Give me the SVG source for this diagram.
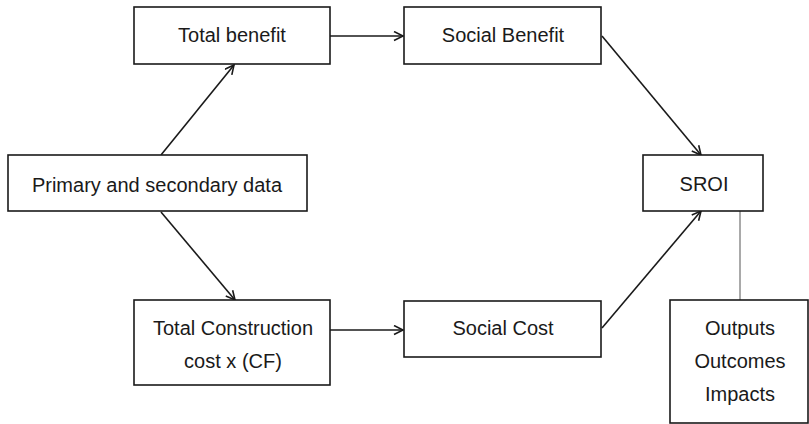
<svg xmlns="http://www.w3.org/2000/svg" width="809" height="424" viewBox="0 0 809 424">
<style>
.box{fill:#fff;stroke:#1a1a1a;stroke-width:1.6}
.t{font-family:"Liberation Sans",Arial,sans-serif;font-size:20px;fill:#1a1a1a;text-anchor:middle}
.c{stroke:#1a1a1a;stroke-width:1.6;fill:none}
</style>
<defs>
<marker id="ah" markerWidth="12" markerHeight="12" refX="10" refY="5" orient="auto" markerUnits="userSpaceOnUse">
<path d="M1,0.5 L10,5 L1,9.5" fill="none" stroke="#1a1a1a" stroke-width="1.6"/>
</marker>
</defs>
<rect width="809" height="424" fill="#fff"/>
<g id="connectors">
<line class="c" x1="161" y1="155" x2="234" y2="65" marker-end="url(#ah)"/>
<line class="c" x1="161" y1="212" x2="235" y2="300" marker-end="url(#ah)"/>
<line class="c" x1="330" y1="36" x2="403" y2="36" marker-end="url(#ah)"/>
<line class="c" x1="330" y1="330" x2="403" y2="330" marker-end="url(#ah)"/>
<line class="c" x1="602" y1="36" x2="701" y2="155" marker-end="url(#ah)"/>
<line class="c" x1="602" y1="328" x2="701" y2="211" marker-end="url(#ah)"/>
<line x1="740" y1="211" x2="740" y2="300" stroke="#555" stroke-width="1"/>
</g>
<g id="primary">
<rect class="box" x="8" y="155" width="299" height="56"/>
<text class="t" x="157" y="192">Primary and secondary data</text>
</g>
<g id="total-benefit">
<rect class="box" x="134" y="7" width="196" height="57"/>
<text class="t" x="232" y="42">Total benefit</text>
</g>
<g id="social-benefit">
<rect class="box" x="404" y="7" width="197" height="57"/>
<text class="t" x="503" y="42">Social Benefit</text>
</g>
<g id="total-construction">
<rect class="box" x="134" y="300" width="196" height="85"/>
<text class="t" x="233" y="335">Total Construction</text>
<text class="t" x="233" y="368">cost x (CF)</text>
</g>
<g id="social-cost">
<rect class="box" x="404" y="301" width="197" height="56"/>
<text class="t" x="503" y="335">Social Cost</text>
</g>
<g id="sroi">
<rect class="box" x="643" y="155" width="120" height="56"/>
<text class="t" x="704" y="191">SROI</text>
</g>
<g id="outputs">
<rect class="box" x="670" y="300" width="138" height="123"/>
<text class="t" x="740" y="335">Outputs</text>
<text class="t" x="740" y="368">Outcomes</text>
<text class="t" x="740" y="401">Impacts</text>
</g>
</svg>
